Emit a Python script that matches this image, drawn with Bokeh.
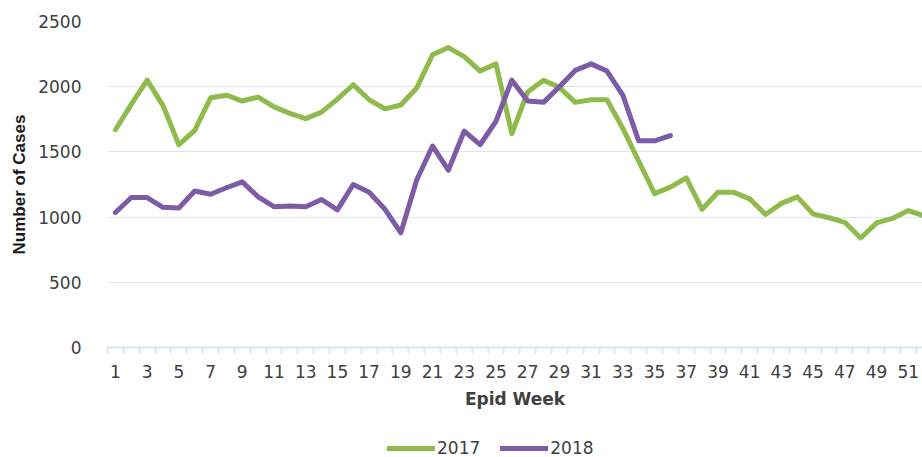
from bokeh.plotting import figure
from bokeh.layouts import column
from bokeh.models import Range1d, FixedTicker, Legend, LegendItem, ColumnDataSource
from bokeh.embed import file_html
from bokeh.resources import INLINE

weeks_2017 = list(range(1, 53))
cases_2017 = [1670, 1865, 2050, 1855, 1555, 1665, 1915, 1935, 1890, 1920,
              1845, 1795, 1755, 1805, 1905, 2015, 1900, 1830, 1860, 1990,
              2245, 2300, 2230, 2120, 2175, 1640, 1960, 2050, 1995, 1880,
              1900, 1900, 1680, 1430, 1180, 1230, 1300, 1060, 1190, 1190,
              1140, 1020, 1105, 1155, 1025, 995, 960, 840, 955, 990,
              1050, 1010]
weeks_2018 = list(range(1, 37))
cases_2018 = [1035, 1150, 1150, 1075, 1070, 1200, 1175, 1225, 1270, 1155,
              1080, 1085, 1080, 1135, 1055, 1250, 1190, 1060, 880, 1285,
              1545, 1360, 1660, 1555, 1735, 2050, 1890, 1880, 2000, 2125,
              2175, 2120, 1935, 1585, 1585, 1625]
x_tick_labels = list(range(1, 52, 2))
y_ticks = [0, 500, 1000, 1500, 2000, 2500]
series_labels = ["2017", "2018"]

GREEN = "#8fba4c"
PURPLE = "#7d5ca5"
GRID = "#d9e5f3"
TEXT = "#404040"
FONT = "DejaVu Sans"

p = figure(width=922, height=430,
           output_backend="svg", toolbar_location=None,
           x_range=Range1d(0.5, 51.9), y_range=Range1d(0, 2500),
           min_border_left=107, min_border_right=0, min_border_top=21,
           min_border_bottom=83)
p.outline_line_color = None
p.background_fill_color = "white"

s17 = ColumnDataSource(dict(x=weeks_2017, y=cases_2017))
s18 = ColumnDataSource(dict(x=weeks_2018, y=cases_2018))
style17 = dict(line_color=GREEN, line_width=5, line_join="round", line_cap="round")
style18 = dict(line_color=PURPLE, line_width=5, line_join="round", line_cap="round")
r17 = p.line("x", "y", source=s17, **style17)
r18 = p.line("x", "y", source=s18, **style18)

# x axis
xa = p.xaxis[0]
xa.ticker = FixedTicker(ticks=x_tick_labels, minor_ticks=[w + 0.5 for w in range(0, 53)])
xa.major_tick_line_color = None
xa.minor_tick_line_color = GRID
xa.minor_tick_line_width = 2
xa.minor_tick_in = 0
xa.minor_tick_out = 6
xa.axis_line_color = GRID
xa.axis_line_width = 2
xa.major_label_text_font = FONT
xa.major_label_text_font_size = "17px"
xa.major_label_text_color = TEXT
xa.major_label_standoff = 11
xa.axis_label = "Epid Week"
xa.axis_label_text_font = FONT
xa.axis_label_text_font_style = "bold"
xa.axis_label_text_font_size = "17px"
xa.axis_label_text_color = TEXT
xa.axis_label_standoff = 8

# y axis
ya = p.yaxis[0]
ya.ticker = FixedTicker(ticks=y_ticks)
ya.axis_line_color = None
ya.major_tick_line_color = None
ya.minor_tick_line_color = None
ya.major_label_text_font = FONT
ya.major_label_text_font_size = "17px"
ya.major_label_text_color = TEXT
ya.major_label_standoff = 20
ya.axis_label = "Number of Cases"
ya.axis_label_text_font = "Liberation Sans"
ya.axis_label_text_font_style = "bold"
ya.axis_label_text_font_size = "17px"
ya.axis_label_text_color = "#1a1a1a"
ya.axis_label_standoff = 6

p.xgrid.grid_line_color = None
p.ygrid.grid_line_color = GRID
p.ygrid.grid_line_width = 1
p.ygrid.ticker = FixedTicker(ticks=y_ticks)

# legend strip below the chart (its lines lie outside its own view range,
# only the legend swatches and labels show)
leg = figure(width=922, height=27, output_backend="svg", toolbar_location=None,
             x_range=Range1d(1000, 1001), y_range=Range1d(-1, 0),
             x_axis_type=None, y_axis_type=None,
             min_border_left=0, min_border_right=0, min_border_top=0,
             min_border_bottom=0)
leg.outline_line_color = None
l17 = leg.line("x", "y", source=s17, **style17)
l18 = leg.line("x", "y", source=s18, **style18)
legend = Legend(items=[LegendItem(label=series_labels[0], renderers=[l17]),
                       LegendItem(label=series_labels[1], renderers=[l18])],
                orientation="horizontal", location=(280, -1),
                glyph_width=48, glyph_height=10, label_standoff=2, spacing=20,
                label_text_font=FONT, label_text_font_size="17px",
                label_text_color=TEXT, border_line_color=None,
                background_fill_alpha=0, padding=0, margin=0)
leg.add_layout(legend)

open("out.html", "w").write(file_html(column(p, leg, spacing=0), INLINE))
